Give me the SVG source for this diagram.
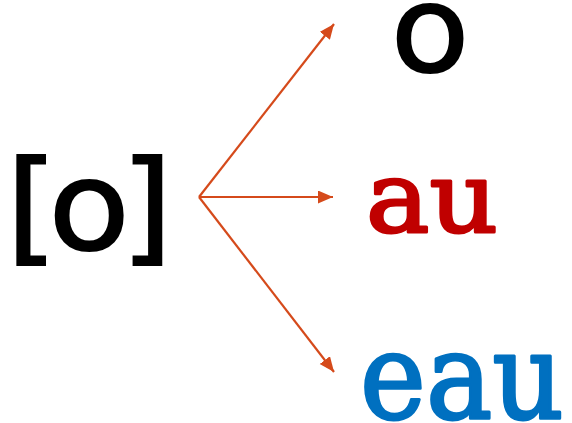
<svg xmlns="http://www.w3.org/2000/svg" width="572" height="423" viewBox="0 0 572 423">
<style>
.sans{font-family:"DejaVu Sans","Liberation Sans",sans-serif;fill:#000;stroke:#000;stroke-width:2}
.slab{font-family:"DejaVu Serif","Liberation Serif",serif;stroke-width:3;stroke-linejoin:round}
.conn{stroke:#d54a1b;stroke-width:2.2;fill:none}
</style>
<defs>
<marker id="ah" markerUnits="userSpaceOnUse" markerWidth="16" markerHeight="14" refX="15" refY="6.5" orient="auto">
<path d="M0,0 L15,6.5 L0,13 z" fill="#d54a1b"/>
</marker>
</defs>
<rect width="572" height="423" fill="#fff"/>
<g id="connectors">
<line class="conn" x1="199" y1="197" x2="334" y2="24" marker-end="url(#ah)"/>
<line class="conn" x1="199" y1="197" x2="333" y2="197" marker-end="url(#ah)"/>
<line class="conn" x1="199" y1="197" x2="334" y2="372" marker-end="url(#ah)"/>
</g>
<g id="source">
<text class="sans" x="5.5" y="249" font-size="123" letter-spacing="-8.5" transform="scale(1.08,1)">[o]</text>
</g>
<g id="target-o">
<text class="sans" font-size="119" text-anchor="middle" transform="translate(430,71) scale(1.08,1)">o</text>
</g>
<g id="target-au">
<text class="slab" x="366" y="232" font-size="97" fill="#c00000" stroke="#c00000" textLength="132" lengthAdjust="spacingAndGlyphs">au</text>
</g>
<g id="target-eau">
<text class="slab" x="360" y="418" font-size="120" fill="#0070c0" stroke="#0070c0" textLength="204" lengthAdjust="spacingAndGlyphs">eau</text>
</g>
</svg>
